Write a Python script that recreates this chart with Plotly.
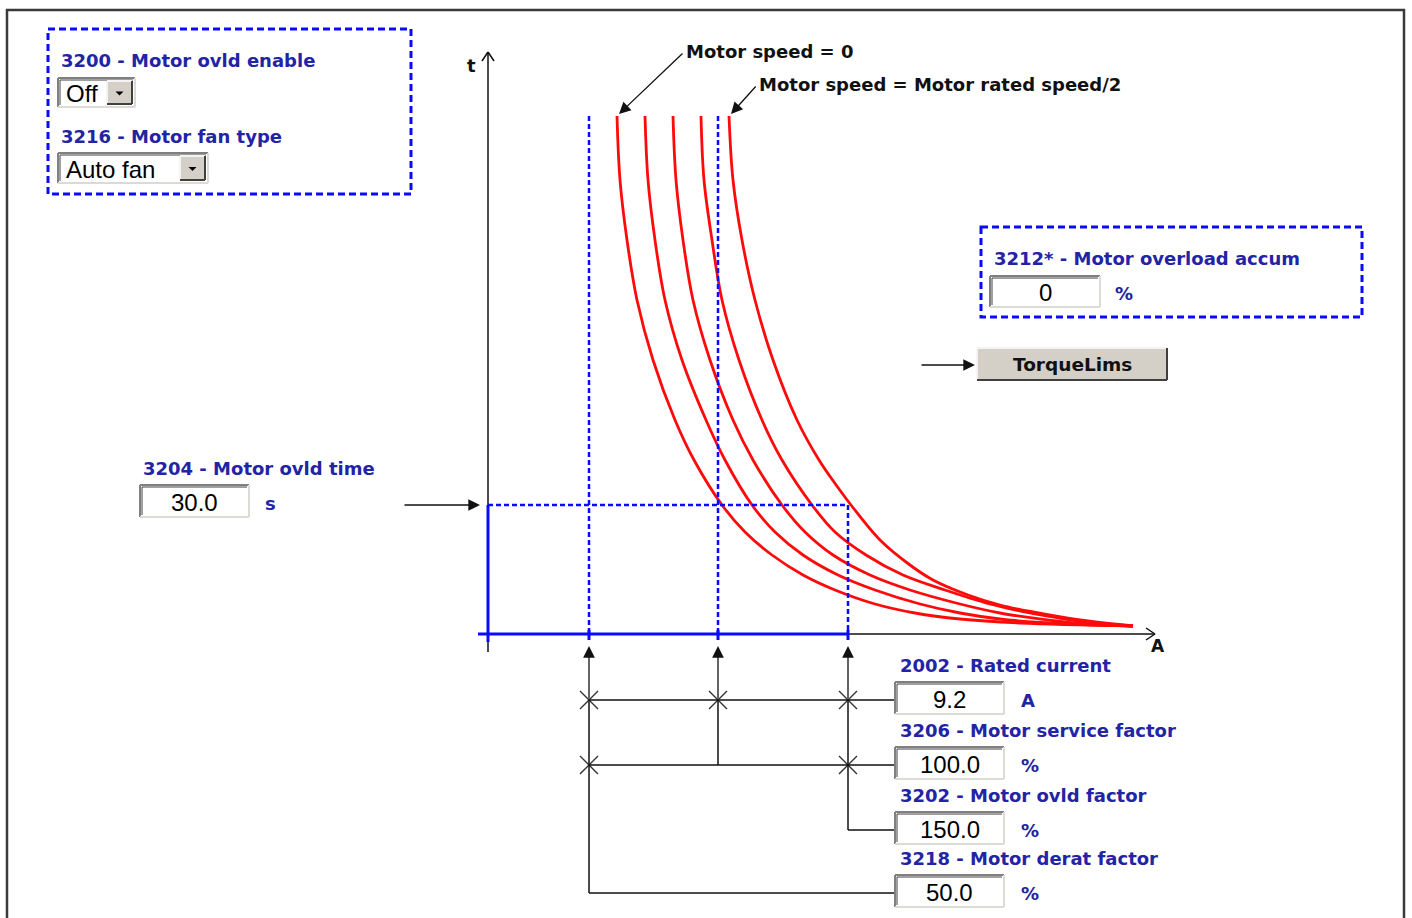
import plotly.graph_objects as go

W, H = 1412, 918

# overload curves, one per motor speed step (sketch pixel coordinates)
curve1_y = [116, 180, 240, 300, 360, 420, 460, 505, 532, 555, 575, 590, 604, 613, 619, 623, 626]
curve1_x = [617, 620, 627, 637, 653, 675, 694, 722, 745, 772, 803, 835, 875, 915, 960, 1020, 1133]
curve2_y = [116, 180, 240, 300, 360, 420, 460, 505, 532, 555, 575, 590, 604, 613, 619, 623, 626]
curve2_x = [645, 648, 655, 665, 682, 706, 725, 752, 775, 803, 838, 875, 920, 960, 1000, 1050, 1133]
curve3_y = [116, 180, 240, 300, 360, 420, 460, 505, 532, 555, 575, 590, 604, 613, 619, 623, 626]
curve3_x = [673, 676, 683, 693, 710, 733, 753, 782, 805, 833, 870, 910, 960, 1000, 1040, 1075, 1133]
curve4_y = [116, 180, 240, 300, 360, 420, 460, 505, 532, 555, 575, 590, 604, 613, 619, 623, 626]
curve4_x = [701, 704, 712, 722, 739, 762, 782, 812, 835, 866, 903, 945, 990, 1030, 1065, 1095, 1133]
curve5_y = [116, 180, 240, 300, 360, 420, 460, 482, 505, 540, 565, 580, 595, 605, 612, 620, 626]
curve5_x = [729, 733, 742, 755, 773, 797, 819, 834, 851, 880, 910, 933, 968, 1000, 1033, 1080, 1133]
curves = [(curve1_x, curve1_y), (curve2_x, curve2_y), (curve3_x, curve3_y),
          (curve4_x, curve4_y), (curve5_x, curve5_y)]

# current levels on the A axis (derated, rated, overload) and the ovld time level
current_marks = [589, 718, 848]
time_mark = 505

# parameters
ovld_enable = "Off"
fan_type = "Auto fan"
ovld_accum = "0"
ovld_time = "30.0"
param_labels = ["2002 - Rated current", "3206 - Motor service factor",
                "3202 - Motor ovld factor", "3218 - Motor derat factor"]
param_values = ["9.2", "100.0", "150.0", "50.0"]
param_units = ["A", "%", "%", "%"]

LABEL = "#2323a6"
BLUE = "#0a0aff"
RED = "#ff0a0a"

shapes = []
annotations = []


def line(x0, y0, x1, y1, color="#111", width=1.5, dash=None):
    shapes.append(dict(type="line", x0=x0, y0=y0, x1=x1, y1=y1,
                       line=dict(color=color, width=width, dash=dash)))


def text(x, y, s, color=LABEL, size=18, bold=True, anchor="left", family="DejaVu Sans"):
    annotations.append(dict(x=x, y=y, text=s, showarrow=False, xanchor=anchor, yanchor="middle",
                            font=dict(family=family, size=size, color=color,
                                      weight="bold" if bold else "normal")))


def arrow(x0, y0, x1, y1, size=1.8):
    annotations.append(dict(x=x1, y=y1, ax=x0, ay=y0, xref="x", yref="y", axref="x", ayref="y",
                            showarrow=True, arrowhead=2, arrowsize=size, arrowwidth=1.3,
                            arrowcolor="#111", text=""))


def sunken_box(x0, y0, x1, y1):
    shapes.append(dict(type="rect", x0=x0, y0=y0, x1=x1, y1=y1, fillcolor="white", line=dict(width=0)))
    line(x0, y0, x1, y0, "#808080", 2)
    line(x0, y0, x0, y1, "#808080", 2)
    line(x0 + 2, y0 + 2, x1 - 2, y0 + 2, "#404040", 1)
    line(x0 + 2, y0 + 2, x0 + 2, y1 - 2, "#404040", 1)
    line(x0, y1, x1, y1, "#dcdad4", 2)
    line(x1, y0, x1, y1, "#dcdad4", 2)


def input_box(x0, y0, x1, y1, value):
    sunken_box(x0, y0, x1, y1)
    text((x0 + x1) / 2, (y0 + y1) / 2 + 1, value, "#000", 24, False, "center", "Liberation Sans")


def raised(x0, y0, x1, y1):
    shapes.append(dict(type="rect", x0=x0, y0=y0, x1=x1, y1=y1, fillcolor="#d4d0c8", line=dict(width=0)))
    line(x0, y0, x1, y0, "#f4f4f4", 2)
    line(x0, y0, x0, y1, "#f4f4f4", 2)
    line(x0, y1, x1, y1, "#404040", 2)
    line(x1, y0, x1, y1, "#404040", 2)


def dropdown(x0, y0, x1, y1, value):
    sunken_box(x0, y0, x1, y1)
    text(x0 + 6, (y0 + y1) / 2 + 1, value, "#000", 24, False, "left", "Liberation Sans")
    bx0 = x1 - 28
    raised(bx0, y0 + 3, x1 - 3, y1 - 3)
    cx, cy = (bx0 + x1 - 3) / 2, (y0 + y1) / 2
    shapes.append(dict(type="path", path=f"M {cx-4} {cy-1} L {cx+4} {cy-1} L {cx} {cy+3} Z",
                       fillcolor="#000", line=dict(width=0)))


def dashed_box(x0, y0, x1, y1):
    shapes.append(dict(type="rect", x0=x0, y0=y0, x1=x1, y1=y1,
                       line=dict(color=BLUE, width=3, dash="7px,4px")))


fig = go.Figure()

# outer frame
shapes.append(dict(type="rect", x0=7, y0=10, x1=1404, y1=940, line=dict(color="#3a3a3a", width=2.5)))

# top-left panel
dashed_box(48, 29, 411, 194)
text(59, 60, "3200 - Motor ovld enable")
dropdown(58, 78, 135, 107, ovld_enable)
text(59, 136, "3216 - Motor fan type")
dropdown(58, 153, 208, 183, fan_type)

# overload accumulator panel
dashed_box(981, 227, 1362, 317)
text(992, 258, "3212* - Motor overload accum")
input_box(990, 276, 1100, 307, ovld_accum)
text(1113, 293, "%")

# TorqueLims button
raised(977, 348, 1167, 380)
text(1072, 364, "TorqueLims", "#111", 18.5, True, "center")
arrow(920, 365, 975, 365)

# ovld time
text(141, 468, "3204 - Motor ovld time")
input_box(140, 485, 249, 517, ovld_time)
text(263, 503, "s")
arrow(403, time_mark, 480, time_mark)

# axes
line(488, 652, 488, 52, "#111", 1.5)
line(478, 634, 1155, 634, "#111", 1.5)
line(482, 61, 488, 52, "#111", 1.5)
line(494, 61, 488, 52, "#111", 1.5)
line(1146, 628, 1155, 634, "#111", 1.5)
line(1146, 640, 1155, 634, "#111", 1.5)
text(471, 65, "t", "#111", 18, True, "center")
text(1158, 646, "A", "#111", 17, True, "center")

# blue limits
for cx in current_marks[:2]:
    line(cx, 116, cx, 634, BLUE, 2.5, "5px,3px")
line(current_marks[2], time_mark, current_marks[2], 634, BLUE, 2.5, "5px,3px")
line(488, time_mark, current_marks[2], time_mark, BLUE, 2.5, "5px,3px")
line(478, 634, current_marks[2], 634, BLUE, 3)
line(488, time_mark, 488, 642, BLUE, 3)
for cx in current_marks:
    line(cx, 630, cx, 640, BLUE, 3)

# curves
for cx_, cy_ in curves:
    fig.add_trace(go.Scatter(x=cx_, y=cy_, mode="lines",
                             line=dict(color=RED, width=2.8, shape="spline", smoothing=1.0),
                             hoverinfo="skip", showlegend=False))

# curve notes
text(684, 51, "Motor speed = 0", "#111", 18, True)
arrow(684, 52, 619, 114)
text(757, 84, "Motor speed = Motor rated speed/2", "#111", 18, True)
arrow(757, 85, 731, 114)

# parameter wiring
row_y = [700, 765, 830, 893]
box_x0, box_x1 = 895, 1004
for cx in current_marks:
    arrow(cx, 700, cx, 646)
line(current_marks[0], 700, current_marks[0], row_y[3])
line(current_marks[1], 700, current_marks[1], row_y[1])
line(current_marks[2], 700, current_marks[2], row_y[2])
line(current_marks[0], row_y[0], box_x0, row_y[0])
line(current_marks[0], row_y[1], box_x0, row_y[1])
line(current_marks[2], row_y[2], box_x0, row_y[2])
line(current_marks[0], row_y[3], box_x0, row_y[3])

fig.add_trace(go.Scatter(x=current_marks + [current_marks[0], current_marks[2]],
                         y=[row_y[0]] * 3 + [row_y[1]] * 2,
                         mode="markers", hoverinfo="skip", showlegend=False,
                         marker=dict(symbol="x-thin", size=18, color="#333",
                                     line=dict(width=1.4, color="#333"))))

for i, (lab, val, unit) in enumerate(zip(param_labels, param_values, param_units)):
    y = row_y[i]
    text(898, y - 35, lab)
    input_box(box_x0, y - 18, box_x1, y + 14, val)
    text(1019, y, unit)

fig.update_layout(
    width=W, height=H,
    margin=dict(l=0, r=0, t=0, b=0),
    paper_bgcolor="white", plot_bgcolor="white",
    xaxis=dict(range=[0, W], visible=False, fixedrange=True),
    yaxis=dict(range=[H, 0], visible=False, fixedrange=True),
    shapes=shapes, annotations=annotations,
    showlegend=False,
)

fig.write_html("out.html", config={"displayModeBar": False},
               post_script="document.body.style.margin = '0px';")
